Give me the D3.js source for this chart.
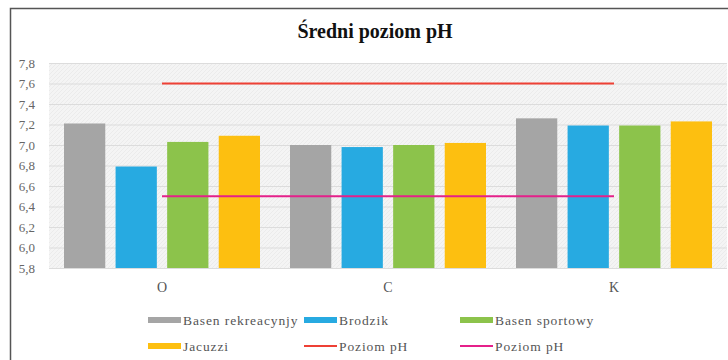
<!DOCTYPE html>
<html><head><meta charset="utf-8">
<script src="https://cdn.jsdelivr.net/npm/d3@7"></script>
<style>body{margin:0;background:#fff}svg{display:block}
svg text{font-family:"Liberation Serif","DejaVu Serif","Times New Roman",serif}</style>
</head><body>
<svg id="c" width="728" height="360"></svg>
<script>
const categories = ["O", "C", "K"];
const seriesNames = ["Basen rekreacynjy", "Brodzik", "Basen sportowy", "Jacuzzi"];
const basenRekreacyjny = [7.21, 7.00, 7.26];
const brodzik = [6.79, 6.98, 7.19];
const basenSportowy = [7.03, 7.00, 7.19];
const jacuzzi = [7.09, 7.02, 7.23];
const poziomGorny = [7.6, 7.6, 7.6];
const poziomDolny = [6.5, 6.5, 6.5];
const yTicks = [5.8, 6.0, 6.2, 6.4, 6.6, 6.8, 7.0, 7.2, 7.4, 7.6, 7.8];
const title = "Średni poziom pH";
const lineNames = ["Poziom pH", "Poziom pH"];

const barColors = ["#a5a5a5", "#27aae1", "#8cc34b", "#fdbf10"];
const lineColors = ["#ee4035", "#e5208a"];
const series = [basenRekreacyjny, brodzik, basenSportowy, jacuzzi];

const svg = d3.select("#c");

// frame
svg.append("path").attr("d", "M10.5,360 V8.5 H728").attr("fill","none").attr("stroke","#555").attr("stroke-width",1.5);

const pLeft = 49, pRight = 727, pTop = 63, pBottom = 268;
const x = d3.scaleBand().domain(categories).range([pLeft, pRight]).paddingInner(0).paddingOuter(0);
const y = d3.scaleLinear().domain([5.8, 7.8]).range([pBottom, pTop]);

// background with pattern
const defs = svg.append("defs");
const pat = defs.append("pattern").attr("id","hatch").attr("width",4).attr("height",4)
  .attr("patternUnits","userSpaceOnUse");
pat.append("rect").attr("width",4).attr("height",4).attr("fill","#f4f4f4");
pat.append("path").attr("d","M0,4 L4,0").attr("stroke","#e9e9e9").attr("stroke-width",0.8);
svg.append("rect").attr("x",pLeft).attr("y",pTop).attr("width",pRight-pLeft).attr("height",pBottom-pTop).attr("fill","url(#hatch)");

// gridlines
const yAxis = d3.axisLeft(y).tickValues(yTicks).tickSize(-(pRight-pLeft)).tickFormat(d => d3.format(".1f")(d).replace(".", ","));
const gy = svg.append("g").attr("transform", `translate(${pLeft},0)`).call(yAxis);
gy.attr("font-family", null);
gy.select(".domain").remove();
gy.selectAll(".tick line").attr("stroke", "#dcdcdc").attr("stroke-width", 1.2);
gy.selectAll(".tick text").attr("x", -14).attr("font-size", 13).attr("fill", "#666");

// bars
const inner = d3.scaleBand().domain(d3.range(series.length)).range([15, x.bandwidth()-15]).paddingInner(0.2);
series.forEach((vals, si) => {
  svg.append("g").selectAll("rect").data(vals).join("rect")
    .attr("x", (d, i) => x(categories[i]) + inner(si))
    .attr("width", inner.bandwidth())
    .attr("y", d => y(d))
    .attr("height", d => y(5.8) - y(d))
    .attr("fill", barColors[si]);
});

// lines
[poziomGorny, poziomDolny].forEach((vals, li) => {
  const line = d3.line().x((d, i) => x(categories[i]) + x.bandwidth()/2).y(d => y(d));
  svg.append("path").datum(vals).attr("d", line).attr("fill","none").attr("stroke", lineColors[li]).attr("stroke-width", 2);
});

// x labels
const xAxis = d3.axisBottom(x).tickSize(0);
const gx = svg.append("g").attr("transform", `translate(0,${pBottom})`).call(xAxis);
gx.attr("font-family", null);
gx.select(".domain").remove();
gx.selectAll(".tick text").attr("dy", 0).attr("y", 24).attr("font-size", 14).attr("fill", "#555");

// title
svg.append("text").attr("x", 375).attr("y", 38).attr("text-anchor","middle")
  .attr("font-weight","bold").attr("font-size", 20).attr("fill","#111").text(title);

// legend
const legendItems = [
  {name: seriesNames[0], type:"bar", color: barColors[0]},
  {name: seriesNames[1], type:"bar", color: barColors[1]},
  {name: seriesNames[2], type:"bar", color: barColors[2]},
  {name: seriesNames[3], type:"bar", color: barColors[3]},
  {name: lineNames[0], type:"line", color: lineColors[0]},
  {name: lineNames[1], type:"line", color: lineColors[1]}
];
const colX = [148, 304, 460], rowY = [320, 346];
legendItems.forEach((it, i) => {
  const cx = colX[i % 3], cy = rowY[Math.floor(i / 3)];
  const g = svg.append("g").attr("transform", `translate(${cx},${cy})`);
  if (it.type === "bar") g.append("rect").attr("x",0).attr("y",-3).attr("width",33).attr("height",6).attr("fill", it.color);
  else g.append("line").attr("x1",0).attr("x2",33).attr("y1",0).attr("y2",0).attr("stroke", it.color).attr("stroke-width",2);
  g.append("text").attr("x",35).attr("y",5).attr("font-size",13.5)
    .attr("letter-spacing", "0.9px").attr("fill","#555").text(it.name);
});
</script>
</body></html>
